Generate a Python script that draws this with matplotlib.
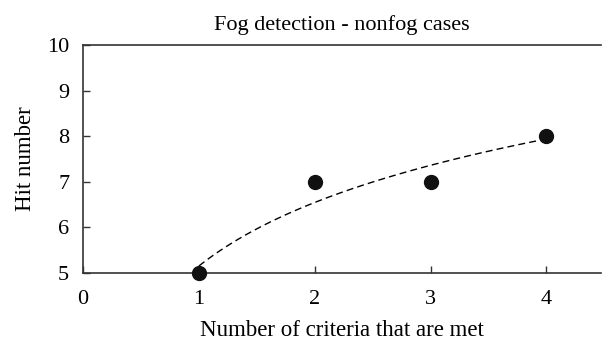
import numpy as np
import matplotlib.pyplot as plt

plt.rcParams['font.family'] = ['Liberation Serif', 'DejaVu Serif']

# data
criteria = [1, 2, 3, 4]
hits = [5, 7, 7, 8]
x_ticks = [0, 1, 2, 3, 4]
y_ticks = [5, 6, 7, 8, 9, 10]

fig = plt.figure(figsize=(6.02, 3.42), dpi=100)
ax = fig.add_axes([0.138, 0.202, 0.86, 0.666])

# logarithmic trend line fitted to the points
a, b = np.polyfit(np.log(criteria), hits, 1)
xs = np.linspace(1, 4, 100)
ax.plot(xs, a * np.log(xs) + b, ls=(0, (5, 3)), color='black', lw=1.0)

ax.plot(criteria, hits, 'o', color='#111111', ms=10, clip_on=False, zorder=3)

ax.set_xlim(0, 4.47)
ax.set_ylim(5, 10)
ax.set_xticks(x_ticks)
ax.set_yticks(y_ticks)
ax.tick_params(direction='in', length=5, width=1, color='#333333', labelsize=16)
ax.tick_params(axis='x', pad=12)
ax.tick_params(axis='y', pad=10)
ax.spines['right'].set_visible(False)
for s in ['left', 'bottom', 'top']:
    ax.spines[s].set_color('#333333')
    ax.spines[s].set_linewidth(1.2)

ax.set_title('Fog detection - nonfog cases', fontsize=16, pad=11)
ax.set_xlabel('Number of criteria that are met', fontsize=16.5, labelpad=8)
ax.set_ylabel('Hit number', fontsize=16.5, labelpad=8)

fig.savefig('out.png', dpi=100)
